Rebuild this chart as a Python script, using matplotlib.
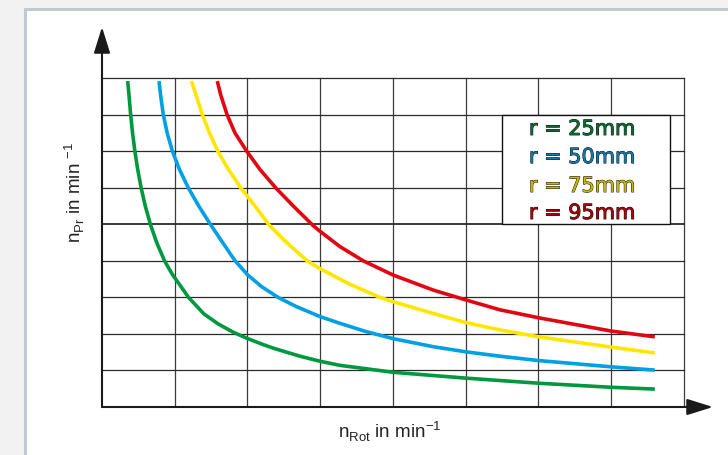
import matplotlib.pyplot as plt
import matplotlib.patheffects as pe
from matplotlib.patches import Rectangle

plt.rcParams["font.family"] = ["Liberation Sans", "DejaVu Sans"]

# curves (grid units: x columns 0..8, y rows 0..9)
x_25 = [0.353, 0.371, 0.393, 0.420, 0.452, 0.491, 0.538, 0.595, 0.665, 0.752, 0.860, 0.970,
        1.190, 1.400, 1.600, 1.800, 1.993, 2.200, 2.355, 2.722, 3.003, 3.271, 4.004, 5.003,
        6.007, 6.996, 7.60]
y_25 = [8.92, 8.54, 8.02, 7.50, 7.00, 6.50, 6.00, 5.50, 5.00, 4.50, 4.00, 3.62,
        3.00, 2.55, 2.27, 2.05, 1.88, 1.72, 1.61, 1.39, 1.25, 1.14, 0.95, 0.79,
        0.65, 0.54, 0.49]

x_50 = [0.784, 0.805, 0.842, 0.896, 0.968, 1.065, 1.186, 1.330, 1.490, 1.635, 1.830, 2.000,
        2.190, 2.420, 2.670, 3.003, 3.271, 3.638, 4.004, 4.554, 5.003, 5.471, 6.007, 6.996, 7.60]
y_50 = [8.92, 8.54, 8.01, 7.50, 7.00, 6.50, 6.00, 5.50, 5.00, 4.57, 4.00, 3.62,
        3.30, 3.00, 2.75, 2.47, 2.29, 2.06, 1.87, 1.65, 1.51, 1.39, 1.27, 1.10, 1.01]

x_75 = [1.230, 1.292, 1.377, 1.478, 1.592, 1.739, 1.911, 2.103, 2.289, 2.522, 2.820, 3.003,
        3.271, 3.409, 3.821, 4.004, 4.554, 5.003, 5.471, 6.007, 6.996, 7.60]
y_75 = [8.92, 8.54, 8.01, 7.50, 7.00, 6.50, 5.99, 5.50, 5.00, 4.53, 4.00, 3.78,
        3.50, 3.36, 3.00, 2.88, 2.56, 2.31, 2.11, 1.92, 1.64, 1.48]

x_95 = [1.585, 1.632, 1.718, 1.828, 1.990, 2.172, 2.392, 2.630, 2.900, 3.003, 3.271, 3.592,
        4.004, 4.554, 5.003, 5.471, 6.007, 6.996, 7.60]
y_95 = [8.92, 8.54, 8.01, 7.50, 7.00, 6.50, 5.99, 5.50, 4.97, 4.80, 4.39, 4.00,
        3.61, 3.20, 2.93, 2.66, 2.44, 2.08, 1.92]

labels = ["r = 25mm", "r = 50mm", "r = 75mm", "r = 95mm"]
line_colors = ["#00983f", "#00a0e2", "#ffe600", "#e20613"]
text_colors = ["#0b6b35", "#1279a8", "#c9b800", "#a8000f"]

W, H = 728, 455
fig = plt.figure(figsize=(W / 100, H / 100), dpi=100, facecolor="#f2f2f2")
fig.patches.append(Rectangle((25 / W, -0.1), 1.1, 1 - 9 / H + 0.1,
                             transform=fig.transFigure, facecolor="white",
                             edgecolor="#c3c9ce", linewidth=2.2, zorder=-1))

ax = fig.add_axes([102 / W, 48 / H, 611 / W, 380 / H])
ax.set_xlim(0, 8.4)
ax.set_ylim(0, 10.4)
ax.axis("off")

# grid
for xv in range(1, 9):
    ax.plot([xv, xv], [0, 9], color="#3c3c3c", lw=0.9, zorder=1)
for yv in range(1, 10):
    ax.plot([0, 8], [yv, yv], color="#2a2a2a", lw=1.3 if yv == 5 else 0.9, zorder=1)

# axes with arrows
arrow = dict(arrowstyle="-|>,head_length=0.8,head_width=0.25", color="#1a1a1a",
             lw=1.5, mutation_scale=20, shrinkA=0, shrinkB=0)
ax.annotate("", xy=(8.4, 0), xytext=(0, 0), arrowprops=arrow, annotation_clip=False)
ax.annotate("", xy=(0, 10.4), xytext=(0, 0), arrowprops=arrow, annotation_clip=False)

for xs, ys, c in zip([x_25, x_50, x_75, x_95], [y_25, y_50, y_75, y_95], line_colors):
    ax.plot(xs, ys, color=c, lw=2.6, solid_capstyle="butt", solid_joinstyle="round", zorder=3)

# legend box
ax.add_patch(Rectangle((5.5, 5.0), 2.31, 3.0, facecolor="white", edgecolor="#111111",
                       lw=1.0, zorder=4))
for lab, c, yy in zip(labels, text_colors, [7.61, 6.84, 6.05, 5.31]):
    ax.text(5.87, yy, lab, color=c, fontsize=15, ha="left", va="center",
            family=["DejaVu Sans"], zorder=5,
            path_effects=[pe.withStroke(linewidth=0.7, foreground="#111111")])

fig.text(390 / W, 1 - 432 / H, r"n$_{\mathregular{Rot}}$ in min$^{\mathregular{-1}}$",
         ha="center", va="center", fontsize=13.5, color="#222222")
fig.text(75 / W, 1 - 192 / H, r"n$_{\mathregular{Pr}}$ in min $^{\mathregular{-1}}$",
         ha="center", va="center", fontsize=13.5, color="#222222", rotation=90)

fig.savefig("out.png", dpi=100, facecolor=fig.get_facecolor())
